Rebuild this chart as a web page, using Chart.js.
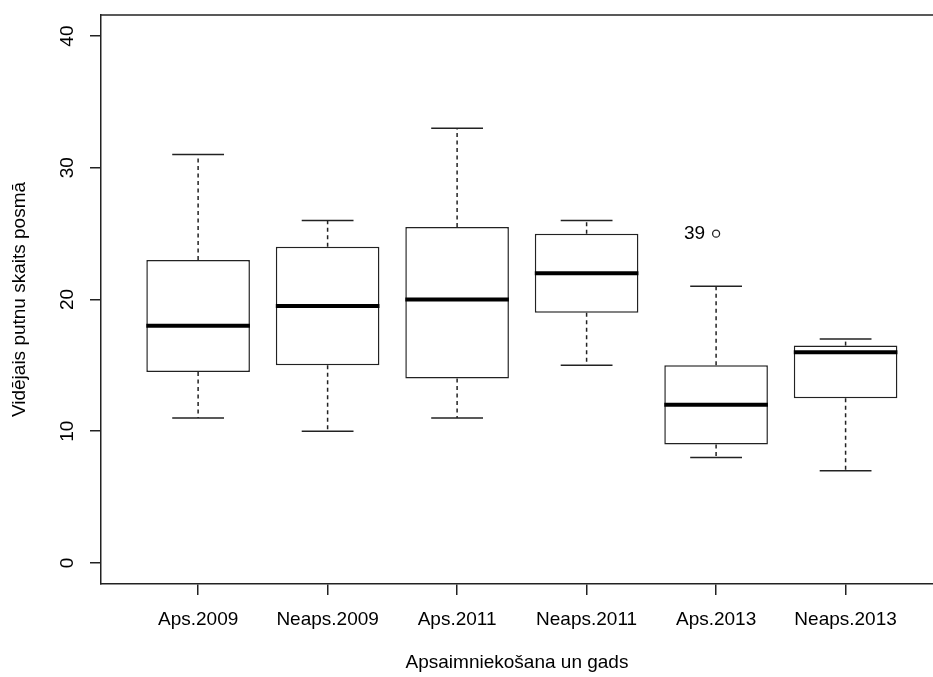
<!DOCTYPE html>
<html><head><meta charset="utf-8">
<script src="https://cdn.jsdelivr.net/npm/chart.js@4/dist/chart.umd.min.js"></script>
<style>html,body{margin:0;padding:0;background:#fff;overflow:hidden}#wrap{width:933px;height:677px}</style>
</head><body><div id="wrap"><canvas id="c" width="933" height="677"></canvas></div>
<script>
// ---- data ----
const categories = ['Aps.2009','Neaps.2009','Aps.2011','Neaps.2011','Aps.2013','Neaps.2013'];
const whiskerLow  = [11, 10, 11, 15, 8, 7];
const q1          = [14.5, 15, 14, 19, 9, 12.5];
const median      = [18, 19.5, 20, 22, 12, 16];
const q3          = [23, 24, 25.5, 25, 15, 16.5];
const whiskerHigh = [31, 26, 33, 26, 21, 17];
const outlierGroup = [5];
const outlierValue = [25];
const outlierLabel = ['39'];
const yTicks = [0, 10, 20, 30, 40];
const xTitle = 'Apsaimniekošana un gads';
const yTitle = 'Vidējais putnu skaits posmā';

const FONT = "'Liberation Sans', Arial, sans-serif";
const FS = 19;
const LC = '#222';
const LW = 1.5;
Chart.defaults.color = '#000';
Chart.defaults.font.family = FONT;

const boxPlugin = {
  id: 'boxParts',
  afterDatasetsDraw(chart) {
    const ctx = chart.ctx, xs = chart.scales.x, ys = chart.scales.y, ca = chart.chartArea;
    const line = (x1, y1, x2, y2) => { ctx.beginPath(); ctx.moveTo(x1, y1); ctx.lineTo(x2, y2); ctx.stroke(); };
    ctx.save();
    ctx.strokeStyle = LC;
    ctx.lineWidth = LW;
    // top frame line
    line(ca.left, ca.top, ca.right, ca.top);
    categories.forEach((c, i) => {
      const xc = xs.getPixelForValue(i + 1);
      const capHalf = xs.getPixelForValue(i + 1.2) - xc;
      const boxHalf = xs.getPixelForValue(i + 1.4) - xc;
      ctx.lineWidth = LW;
      ctx.setLineDash([4, 3.5]);
      line(xc, ys.getPixelForValue(q3[i]), xc, ys.getPixelForValue(whiskerHigh[i]));
      line(xc, ys.getPixelForValue(q1[i]), xc, ys.getPixelForValue(whiskerLow[i]));
      ctx.setLineDash([]);
      line(xc - capHalf, ys.getPixelForValue(whiskerHigh[i]), xc + capHalf, ys.getPixelForValue(whiskerHigh[i]));
      line(xc - capHalf, ys.getPixelForValue(whiskerLow[i]), xc + capHalf, ys.getPixelForValue(whiskerLow[i]));
      ctx.strokeStyle = '#000';
      ctx.lineWidth = 4;
      line(xc - boxHalf, ys.getPixelForValue(median[i]), xc + boxHalf, ys.getPixelForValue(median[i]));
      ctx.strokeStyle = LC;
    });
    ctx.fillStyle = '#000';
    ctx.font = FS + 'px ' + FONT;
    ctx.textAlign = 'right';
    ctx.textBaseline = 'middle';
    outlierGroup.forEach((g, k) => {
      ctx.fillText(outlierLabel[k], xs.getPixelForValue(g) - 11, ys.getPixelForValue(outlierValue[k]));
    });
    ctx.restore();
  }
};

const noPad = s => { s.paddingTop = 0; s.paddingBottom = 0; s.paddingLeft = 0; s.paddingRight = 0; };

new Chart(document.getElementById('c'), {
  type: 'bar',
  data: {
    datasets: [
      {
        type: 'bar',
        data: categories.map((c, i) => ({ x: i + 1, y: [q1[i], q3[i]] })),
        backgroundColor: '#fff',
        borderColor: LC,
        borderWidth: LW,
        borderSkipped: false,
        barPercentage: 0.8,
        categoryPercentage: 1,
        grouped: false
      },
      {
        type: 'scatter',
        data: outlierGroup.map((g, k) => ({ x: g, y: outlierValue[k] })),
        pointStyle: 'circle',
        radius: 3.5,
        borderWidth: 1.3,
        borderColor: LC,
        backgroundColor: '#fff'
      }
    ]
  },
  options: {
    responsive: false,
    devicePixelRatio: 1,
    animation: false,
    layout: { autoPadding: false, padding: { top: 15, left: 0, right: 0, bottom: 0 } },
    plugins: { legend: { display: false }, tooltip: { enabled: false } },
    scales: {
      x: {
        type: 'linear',
        min: 0.25,
        max: 6.675,
        offset: false,
        afterBuildTicks: s => { s.ticks = categories.map((c, i) => ({ value: i + 1 })); },
        afterFit: s => { s.height = 93; noPad(s); },
        grid: { display: true, offset: false, drawOnChartArea: false, drawTicks: true, tickLength: 11, color: LC, lineWidth: LW },
        border: { display: true, color: LC, width: LW },
        ticks: {
          autoSkip: false, maxRotation: 0, minRotation: 0, padding: 15,
          font: { size: FS, lineHeight: 1 },
          callback: v => categories[Math.round(v) - 1]
        },
        title: { display: true, text: xTitle, font: { size: FS, lineHeight: 1 }, padding: { top: 0, bottom: 5 } }
      },
      y: {
        type: 'linear',
        min: -1.6,
        max: 41.6,
        afterBuildTicks: s => { s.ticks = yTicks.map(v => ({ value: v })); },
        afterFit: s => { s.width = 101; noPad(s); },
        grid: { display: true, drawOnChartArea: false, drawTicks: true, tickLength: 11, color: LC, lineWidth: LW },
        border: { display: true, color: LC, width: LW },
        ticks: {
          minRotation: 90, maxRotation: 90, crossAlign: 'center', padding: 12,
          font: { size: FS, lineHeight: 1 }
        },
        title: { display: true, text: yTitle, font: { size: FS, lineHeight: 1 }, padding: { top: 10, bottom: 0 } }
      }
    }
  },
  plugins: [boxPlugin]
});
</script>
</body></html>
